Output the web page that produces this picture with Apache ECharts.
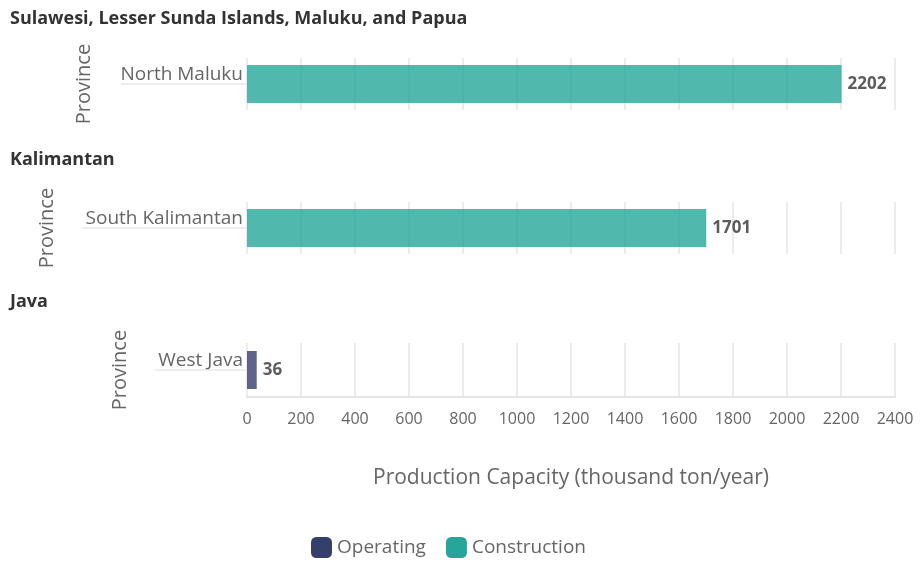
<!DOCTYPE html>
<html>
<head>
<meta charset="utf-8">
<script src="https://cdn.jsdelivr.net/npm/echarts@6/dist/echarts.min.js"></script>
<style>
  html, body { margin: 0; padding: 0; background: #fff; }
  #chart { width: 921px; height: 562px; }
</style>
</head>
<body>
<div id="chart"></div>
<script>
  // data
  const regions = ['Sulawesi, Lesser Sunda Islands, Maluku, and Papua', 'Kalimantan', 'Java'];
  const provinces = ['North Maluku', 'South Kalimantan', 'West Java'];
  const statuses = ['Construction', 'Construction', 'Operating'];
  const capacity = [2202, 1701, 36];
  const xTicks = [0, 200, 400, 600, 800, 1000, 1200, 1400, 1600, 1800, 2000, 2200, 2400];
  const statusNames = ['Operating', 'Construction'];
  const statusColors = { Operating: '#34406b', Construction: '#26a69a' };

  const font = 'Open Sans';
  // panel layout
  const panelTop = [58, 202, 343];
  const panelHeight = [52, 52, 54];
  const titleTop = [5, 146, 288];
  const nameGaps = [153, 190, 117];
  const tickLens = [126, 165, 92];   // the line under each province label

  let myChart = echarts.init(document.getElementById('chart'));

  let grids = [], xAxes = [], yAxes = [], series = [], titles = [];
  regions.forEach((region, i) => {
    const last = i === regions.length - 1;
    titles.push({
      text: region,
      left: 5,
      top: titleTop[i],
      textStyle: { fontFamily: font, fontSize: 18, fontWeight: 'bold', color: '#333' }
    });
    grids.push({ left: 247, right: 26, top: panelTop[i], height: panelHeight[i] });
    xAxes.push({
      type: 'value',
      gridIndex: i,
      min: xTicks[0],
      max: xTicks[xTicks.length - 1],
      interval: 200,
      axisLine: { show: last, lineStyle: { color: '#e6e6e6', width: 2 } },
      axisTick: { show: false },
      axisLabel: { show: last, color: '#666', fontFamily: font, fontSize: 16, margin: 14, formatter: v => String(v) },
      splitLine: { lineStyle: { color: '#e6e6e6', width: 1.5 } },
      name: last ? 'Production Capacity (thousand ton/year)' : '',
      nameLocation: 'middle',
      nameGap: 71,
      nameTextStyle: { color: '#666', fontFamily: font, fontSize: 21 }
    });
    yAxes.push({
      type: 'category',
      gridIndex: i,
      data: [provinces[i]],
      axisLine: { show: false },
      axisTick: { show: true, alignWithLabel: true, length: tickLens[i], lineStyle: { color: '#eee', width: 2 } },
      axisLabel: { color: '#666', fontFamily: font, fontSize: 19, margin: 4, verticalAlign: 'bottom' },
      name: 'Province',
      nameLocation: 'middle',
      nameGap: nameGaps[i],
      nameTextStyle: { color: '#666', fontFamily: font, fontSize: 20 }
    });
    series.push({
      name: statuses[i],
      type: 'bar',
      xAxisIndex: i,
      yAxisIndex: i,
      barWidth: 38,
      data: [capacity[i]],
      itemStyle: { color: statusColors[statuses[i]], opacity: 0.8 },
      label: {
        show: true,
        position: 'right',
        distance: 6,
        color: '#333',
        fontFamily: font,
        fontSize: 17,
        fontWeight: 'bold'
      }
    });
  });

  myChart.setOption({
    animation: false,
    title: titles,
    grid: grids,
    xAxis: xAxes,
    yAxis: yAxes,
    legend: {
      top: 532,
      left: 306,
      icon: 'roundRect',
      itemWidth: 21,
      itemHeight: 21,
      itemGap: 20,
      itemTextGap: 4,
      textStyle: { color: '#666', fontFamily: font, fontSize: 19 },
      data: statusNames.map(n => ({ name: n, itemStyle: { color: statusColors[n], opacity: 1 } }))
    },
    series: series
  });
</script>
</body>
</html>
